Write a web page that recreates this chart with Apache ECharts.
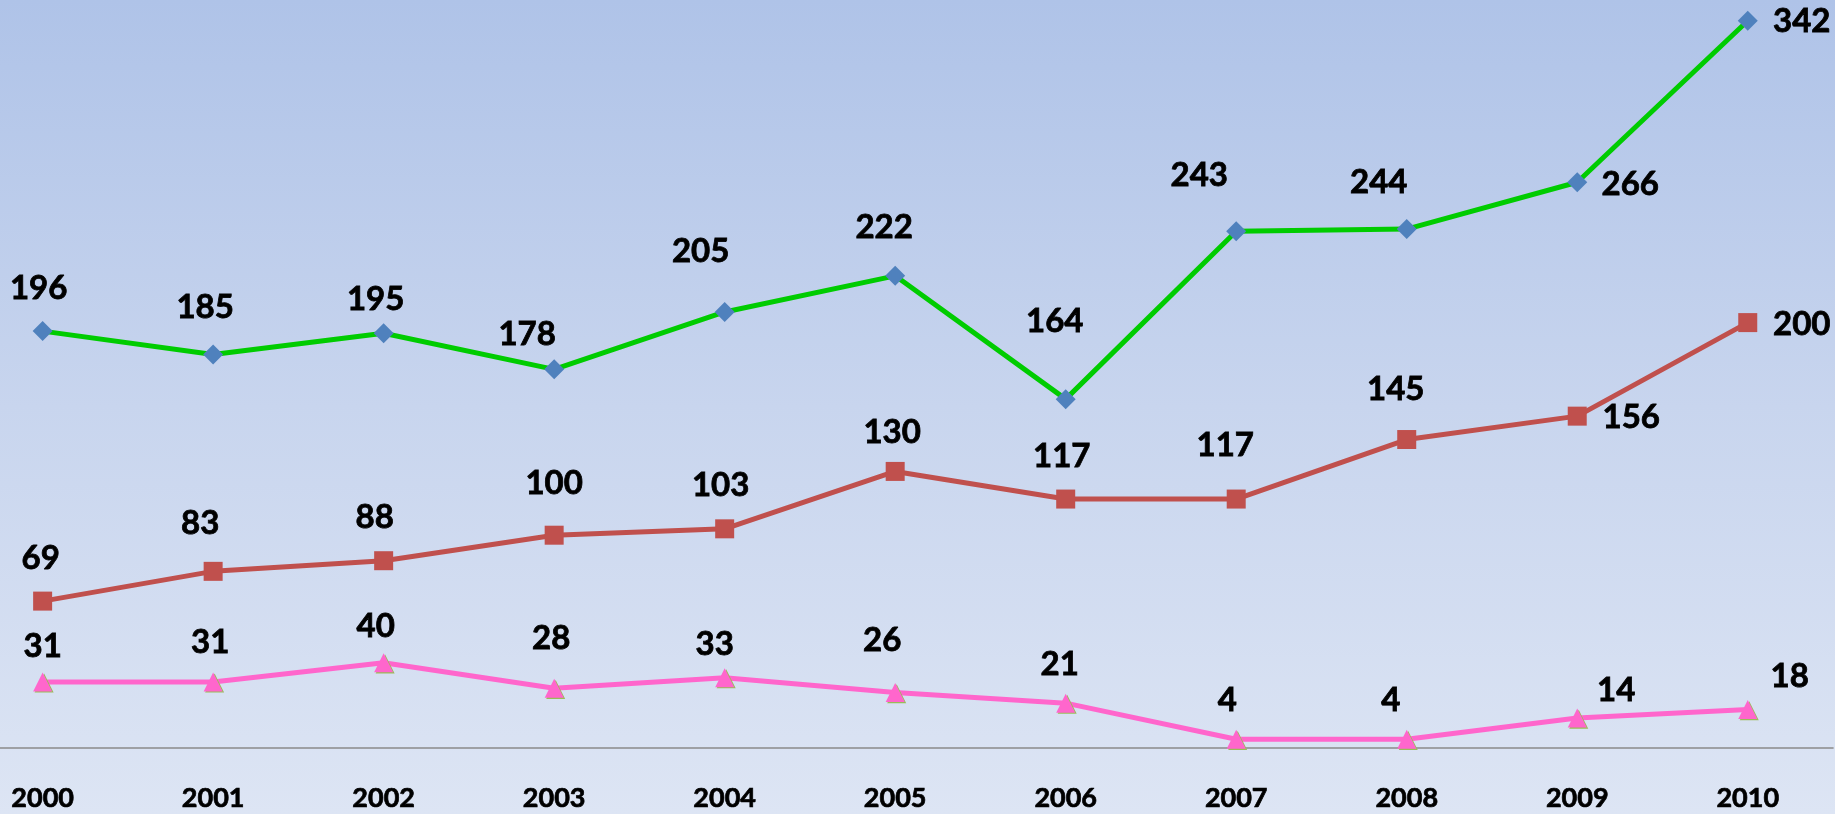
<!DOCTYPE html>
<html>
<head>
<meta charset="utf-8">
<script src="https://cdn.jsdelivr.net/npm/echarts@6/dist/echarts.min.js"></script>
<style>
  html, body { margin: 0; padding: 0; }
  #chart { width: 1835px; height: 814px; }
</style>
</head>
<body>
<div id="chart"></div>
<script>
// Years on the horizontal axis
const years = ['2000', '2001', '2002', '2003', '2004', '2005', '2006', '2007', '2008', '2009', '2010'];

// Series values, one per year
const greenValues = [196, 185, 195, 178, 205, 222, 164, 243, 244, 266, 342];
const redValues   = [69, 83, 88, 100, 103, 130, 117, 117, 145, 156, 200];
const pinkValues  = [31, 31, 40, 28, 33, 26, 21, 4, 4, 14, 18];

// Label placement (pixel offset of each value label from its marker centre)
const greenLabelOffsets = [[-4, -43], [-8, -47], [-8, -34], [-27, -35], [-24, -61], [-11, -48], [-11, -78], [-37, -56], [-28, -47], [53, 2], [54, 1]];
const redLabelOffsets   = [[-2, -43], [-13, -48], [-9, -43], [0, -52], [-4, -43], [-3, -39], [-4, -43], [-11, -54], [-11, -50], [54, 1], [54, 2]];
const pinkLabelOffsets  = [[0, -36], [-3, -40], [-8, -36], [-3, -50], [-10, -33], [-13, -52], [-6, -39], [-9, -39], [-16, -39], [39, -28], [42, -33]];

const FONT = 'Lato, "Open Sans", "Noto Sans", sans-serif';

function buildData(values, offsets) {
  return values.map((v, i) => ({
    value: [i, v],
    label: { offset: offsets[i] }
  }));
}

function labelStyle() {
  return {
    show: true,
    position: 'inside',
    align: 'center',
    verticalAlign: 'middle',
    color: '#000000',
    fontFamily: FONT,
    fontWeight: 'bold',
    fontSize: 33,
    textBorderColor: '#000000',
    textBorderWidth: 0.8,
    formatter: (p) => String(p.value[1])
  };
}

const chart = echarts.init(document.getElementById('chart'), null, { renderer: 'canvas' });

chart.setOption({
  animation: false,
  backgroundColor: {
    type: 'linear', x: 0, y: 0, x2: 0, y2: 1,
    colorStops: [
      { offset: 0, color: '#AFC3E8' },
      { offset: 0.5, color: '#C8D5EE' },
      { offset: 1, color: '#DDE5F4' }
    ]
  },
  grid: { left: 0, right: 2, top: 3.7, bottom: 66.2, containLabel: false },
  xAxis: {
    type: 'value',
    min: -0.25,
    max: 10.5,
    splitLine: { show: false },
    axisTick: { show: false },
    axisLine: { show: true, onZero: false, lineStyle: { color: '#8A8A8A', width: 1.6 } },
    axisLabel: {
      show: true,
      customValues: years.map((_, i) => i),
      formatter: (v) => years[Math.round(v)] ?? '',
      color: '#000000',
      fontFamily: FONT,
      fontWeight: 'bold',
      fontSize: 27,
      textBorderColor: '#000000',
      textBorderWidth: 0.7,
      margin: 37
    }
  },
  yAxis: {
    type: 'value',
    min: 0,
    max: 350,
    show: false,
    splitLine: { show: false }
  },
  series: [
    {
      name: 'green',
      type: 'line',
      data: buildData(greenValues, greenLabelOffsets),
      symbol: 'diamond',
      symbolSize: 20,
      lineStyle: { color: '#00CC00', width: 5 },
      itemStyle: { color: '#4F81BD' },
      label: labelStyle(),
      z: 3
    },
    {
      name: 'red',
      type: 'line',
      data: buildData(redValues, redLabelOffsets),
      symbol: 'rect',
      symbolSize: 19,
      lineStyle: { color: '#C0504D', width: 5 },
      itemStyle: { color: '#C0504D' },
      label: labelStyle(),
      z: 3
    },
    {
      name: 'pink',
      type: 'line',
      data: buildData(pinkValues, pinkLabelOffsets),
      symbol: 'triangle',
      symbolSize: 19,
      lineStyle: { color: '#FF66CC', width: 5 },
      itemStyle: {
        color: '#FF66CC',
        shadowColor: '#9BBB59',
        shadowBlur: 0,
        shadowOffsetX: 1.5,
        shadowOffsetY: 1.2
      },
      label: labelStyle(),
      z: 3
    }
  ]
});
</script>
</body>
</html>
